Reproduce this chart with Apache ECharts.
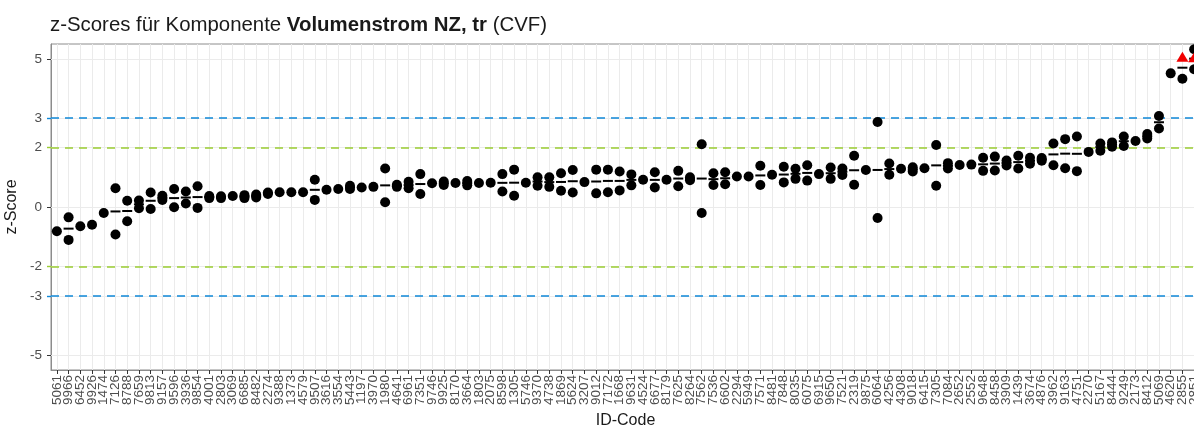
<!DOCTYPE html>
<html>
<head>
<meta charset="utf-8">
<title>z-Scores Volumenstrom NZ, tr</title>
<script src="https://cdn.jsdelivr.net/npm/echarts@6/dist/echarts.min.js"></script>
<style>
  html, body { margin: 0; padding: 0; background: #fff; }
  #chart { width: 1194px; height: 428px; }
</style>
</head>
<body>
<div id="chart"></div>
<script>
// lab ids in plot order
var ids = ['5061','9966','6452','9926','1474','7126','8788','7659','9813','9157',
    '9596','3936','9854','4001','2803','3069','6685','8482','2274','9388',
    '1373','4579','9507','3616','3554','5443','1197','3970','1980','4641',
    '6961','7351','9746','9925','8170','3664','1803','2075','8598','1305',
    '5746','9370','4738','1869','5624','3207','9012','7172','1668','9631',
    '4524','6677','8179','7625','8264','7562','7536','6602','2294','5949',
    '7571','8481','7848','8035','6075','6915','9650','7521','2319','9875',
    '6064','4256','4308','9018','6415','7305','7084','2652','2552','9648',
    '8458','3909','1439','3674','4876','3962','9163','4751','2270','5167',
    '8444','9249','2173','8412','5069','4620','2855','2851'];

// single z-scores per lab (same order as ids)
var zScores = [[-0.82],[-0.35,-1.11],[-0.65],[-0.6],[-0.2],[0.63,-0.93],[0.21,-0.48],[0.22,-0.04],[0.49,-0.07],[0.38,0.24],
    [0.61,-0.01],[0.52,0.12],[0.7,-0.03],[0.37,0.3],[0.36,0.3],[0.37],[0.4,0.3],[0.42,0.32],[0.49,0.44],[0.5],
    [0.5],[0.5],[0.92,0.24],[0.58],[0.61],[0.72,0.61],[0.66],[0.68],[1.3,0.16],[0.75,0.68],
    [0.85,0.63],[1.11,0.44],[0.8],[0.86,0.74],[0.81],[0.88,0.73],[0.81],[0.82],[1.11,0.52],[1.26,0.38],
    [0.82],[1.0,0.72],[1.0,0.68],[1.14,0.55],[1.25,0.49],[0.84],[1.26,0.46],[1.26,0.5],[1.2,0.56],[1.1,0.73],
    [0.92],[1.17,0.66],[0.92],[1.22,0.7],[1.0,0.9],[2.12,-0.2],[1.14,0.74],[1.17,0.77],[1.03],[1.03],
    [1.39,0.74],[1.09],[1.36,0.83],[1.29,0.95],[1.41,0.89],[1.11],[1.33,0.95],[1.3,1.08],[1.73,0.75],[1.25],
    [2.87,-0.37],[1.47,1.09],[1.29],[1.34,1.2],[1.31],[2.09,0.72],[1.48,1.3],[1.42],[1.43],[1.66,1.22],
    [1.7,1.23],[1.57,1.4],[1.73,1.3],[1.66,1.46],[1.65,1.56],[2.14,1.41],[2.29,1.31],[2.38,1.21],[1.86],[2.14,1.9],
    [2.18,2.03],[2.38,2.06],[2.23],[2.46,2.31],[3.07,2.65],[4.51],[4.33],[5.32,4.65]];

// flagged values (red triangles): lab id and z-score
var flaggedIds = ['2855','2851'];
var flaggedZ = [5.07, 5.05];

var yTicks = [-5, -3, -2, 0, 2, 3, 5];
var warnLimit = 2;
var actionLimit = 3;

var blue = '#0f88d8';
var green = '#9acd32';

var chart = echarts.init(document.getElementById('chart'));

var points = [];
var means = [];
for (var i = 0; i < ids.length; i++) {
    var vals = zScores[i].slice();
    for (var j = 0; j < zScores[i].length; j++) {
        points.push([ids[i], zScores[i][j]]);
    }
    var f = flaggedIds.indexOf(ids[i]);
    if (f >= 0) vals.push(flaggedZ[f]);
    if (vals.length > 1) {
        var s = 0;
        for (var k = 0; k < vals.length; k++) s += vals[k];
        means.push([ids[i], s / vals.length]);
    }
}
var flagged = [];
for (var m = 0; m < flaggedIds.length; m++) {
    flagged.push([flaggedIds[m], flaggedZ[m]]);
}

// grid lines: one vertical per lab, horizontal at the y breaks
var gridLines = [];
ids.forEach(function (id) { gridLines.push({ xAxis: id }); });
yTicks.forEach(function (v) { gridLines.push({ yAxis: v }); });

var font = 'Liberation Sans, Arial, sans-serif';

function tickAxis(vals, color) {
    return {
        type: 'value',
        min: -5.5,
        max: 5.5,
        position: 'left',
        axisLine: { show: false },
        axisLabel: { show: false },
        splitLine: { show: false },
        axisTick: { show: true, length: 4, customValues: vals, lineStyle: { color: color, width: 1.4 } }
    };
}

var option = {
    backgroundColor: '#ffffff',
    animation: false,
    title: {
        text: '{n|z-Scores für Komponente }{b|Volumenstrom NZ, tr}{n| (CVF)}',
        left: 45,
        top: 10,
        textStyle: {
            fontWeight: 'normal',
            rich: {
                n: { fontFamily: font, fontSize: 20.4, fontWeight: 'normal', color: '#1a1a1a' },
                b: { fontFamily: font, fontSize: 20.4, fontWeight: 'bold', color: '#1a1a1a' }
            }
        }
    },
    grid: {
        left: 51,
        right: -6,
        top: 44,
        bottom: 58,
        outerBoundsMode: 'none',
        containLabel: false,
        show: true,
        borderColor: '#8c8c8c',
        borderWidth: 1
    },
    xAxis: {
        type: 'category',
        data: ids,
        name: 'ID-Code',
        nameLocation: 'middle',
        nameGap: 40,
        nameTextStyle: { fontFamily: font, fontSize: 16, color: '#1a1a1a' },
        axisLine: { show: true, onZero: false, lineStyle: { color: '#8c8c8c' } },
        axisTick: { show: true, alignWithLabel: true, length: 4, lineStyle: { color: '#333' } },
        axisLabel: { interval: 0, rotate: 90, fontFamily: font, fontSize: 13.5, color: '#4d4d4d', margin: 5 },
        splitLine: { show: false }
    },
    yAxis: [{
        type: 'value',
        min: -5.5,
        max: 5.5,
        name: 'z-Score',
        nameLocation: 'middle',
        nameGap: 17,
        nameTextStyle: { fontFamily: font, fontSize: 16, color: '#1a1a1a' },
        axisLine: { show: true, lineStyle: { color: '#8c8c8c' } },
        axisTick: { show: true, length: 4, customValues: [-5, 0, 5], lineStyle: { color: '#333' } },
        axisLabel: { customValues: yTicks, fontFamily: font, fontSize: 13.5, color: '#4d4d4d', margin: 9 },
        splitLine: { show: false }
    },
    tickAxis([-warnLimit, warnLimit], green),
    tickAxis([-actionLimit, actionLimit], blue)],
    series: [
        {
            // panel grid
            type: 'line',
            data: [],
            silent: true,
            z: 1,
            markLine: {
                silent: true,
                z: 1,
                symbol: 'none',
                label: { show: false },
                lineStyle: { color: '#ebebeb', width: 1, type: 'solid' },
                data: gridLines
            }
        },
        {
            // limits
            type: 'line',
            data: [],
            silent: true,
            z: 2,
            markLine: {
                silent: true,
                z: 2,
                symbol: 'none',
                label: { show: false },
                data: [
                    { yAxis: warnLimit, lineStyle: { color: green, width: 1.6, type: [8, 6] } },
                    { yAxis: -warnLimit, lineStyle: { color: green, width: 1.6, type: [8, 6] } },
                    { yAxis: actionLimit, lineStyle: { color: blue, width: 1.6, type: [8, 6] } },
                    { yAxis: -actionLimit, lineStyle: { color: blue, width: 1.6, type: [8, 6] } }
                ]
            }
        },
        {
            name: 'Mittelwert',
            type: 'scatter',
            symbol: 'rect',
            symbolSize: [10, 2],
            itemStyle: { color: '#000', opacity: 1 },
            data: means,
            z: 3
        },
        {
            name: 'z-Score',
            type: 'scatter',
            symbol: 'circle',
            symbolSize: 10,
            itemStyle: { color: '#000', opacity: 1 },
            data: points,
            z: 4
        },
        {
            name: 'markiert',
            type: 'scatter',
            symbol: 'triangle',
            symbolSize: [12, 10],
            itemStyle: { color: '#f00000', opacity: 1 },
            data: flagged,
            z: 5
        }
    ]
};
chart.setOption(option);
</script>
</body>
</html>
